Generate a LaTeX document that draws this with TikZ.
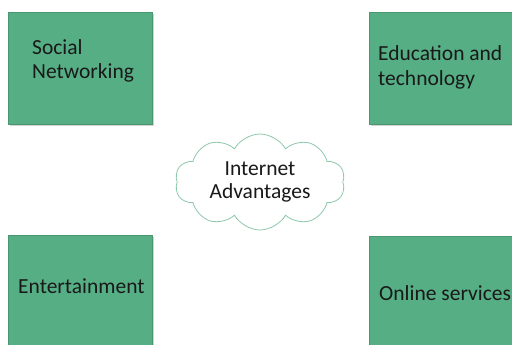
\documentclass[tikz,border=0pt]{standalone}
\usepackage{fontspec}
\setmainfont{Carlito}
\usetikzlibrary{shapes.symbols, shadows, positioning}
\definecolor{boxFill}{RGB}{86, 174, 133}
\definecolor{boxLine}{RGB}{74, 150, 113}
\definecolor{cloudLine}{RGB}{140, 200, 170}
\definecolor{labelColor}{RGB}{25, 25, 25}
\tikzset{
    adv_box/.style={
        draw=boxLine,
        fill=boxFill,
        thick,
        anchor=north west,
        minimum width=144pt,
        minimum height=112pt,
        inner sep=0pt,
        drop shadow={opacity=0.35, shadow xshift=2pt, shadow yshift=-2pt}
    },
    adv_text/.style={
        anchor=base west,
        inner sep=0pt,
        text=labelColor,
        font=\fontsize{21.5}{24}\selectfont
    },
    adv_cloud/.style={
        cloud,
        cloud puffs=10,
        cloud puff arc=120,
        cloud ignores aspect,
        draw=cloudLine,
        fill=white,
        thick,
        minimum width=170pt,
        minimum height=96pt,
        inner sep=0pt,
        text=labelColor,
        align=center,
        font=\fontsize{21.5}{23}\selectfont
    }
}
\begin{document}
\begin{tikzpicture}[x=1pt, y=-1pt]
    \useasboundingbox (0,0) rectangle (512,345);
    \clip (0,0) rectangle (512,345);

    \node[adv_box] (social) at (8,12) {};
    \node[adv_box] (education) at (369,12) {};
    \node[adv_box] (entertain) at (8,235) {};
    \node[adv_box] (online) at (369,236) {};

    \node[adv_text] (social_a) at (32,55) {Social};
    \node[adv_text] (social_b) at (32,79) {Networking};
    \node[adv_text] (education_a) at (378,61) {Education and};
    \node[adv_text] (education_b) at (378,85) {technology};
    \node[adv_text] (entertain_a) at (18,293) {Entertainment};
    \node[adv_text] (online_a) at (379,300) {Online services};

    \node[adv_cloud] (internet) at (260,182) {Internet\\Advantages};
\end{tikzpicture}
\end{document}
